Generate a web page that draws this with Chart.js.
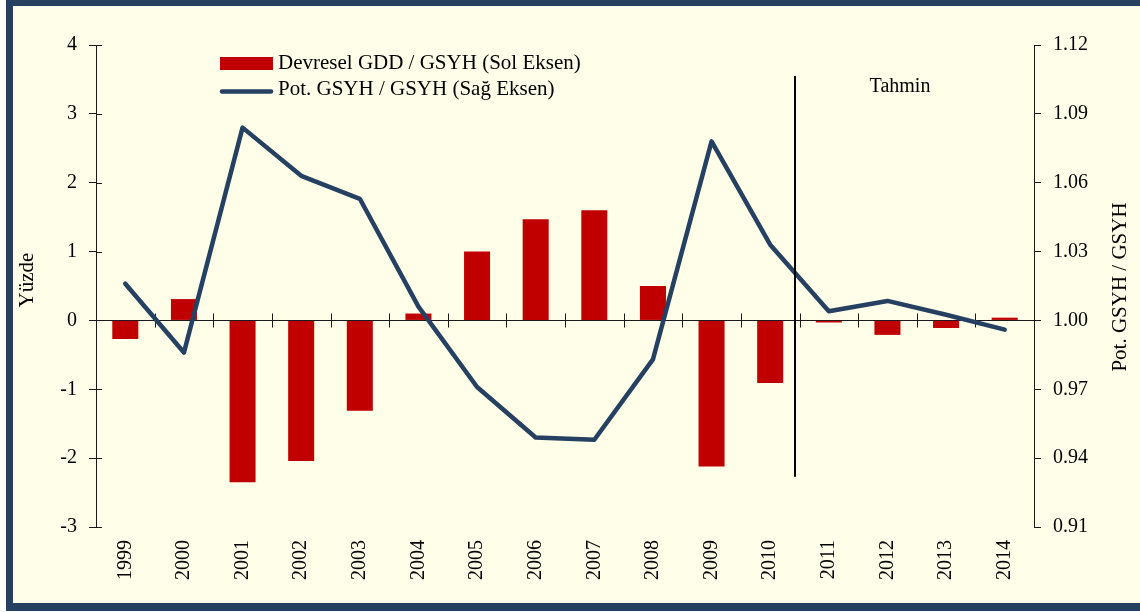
<!DOCTYPE html>
<html><head><meta charset="utf-8">
<script src="https://cdn.jsdelivr.net/npm/chart.js@4.4.1/dist/chart.umd.min.js"></script>
<style>html,body{margin:0;padding:0;background:#fff;overflow:hidden}#wrap{width:1140px;height:612px;position:relative}canvas{display:block}</style>
</head><body><div id="wrap"><canvas id="c" width="1140" height="612" style="width:1140px;height:612px"></canvas></div>
<script>
const years = ['1999','2000','2001','2002','2003','2004','2005','2006','2007','2008','2009','2010','2011','2012','2013','2014'];
const cycleBalance = [-0.27, 0.31, -2.35, -2.04, -1.31, 0.10, 1.00, 1.47, 1.60, 0.50, -2.12, -0.91, -0.03, -0.21, -0.11, 0.04];
const potRatio = [1.016, 0.986, 1.084, 1.063, 1.053, 1.006, 0.971, 0.949, 0.948, 0.983, 1.078, 1.033, 1.004, 1.0085, 1.0025, 0.996];
const leftTicks = [-3, -2, -1, 0, 1, 2, 3, 4];
const rightTicks = [0.91, 0.94, 0.97, 1.00, 1.03, 1.06, 1.09, 1.12];
const seriesLabels = ['Devresel GDD / GSYH (Sol Eksen)', 'Pot. GSYH / GSYH (Sağ Eksen)'];
const leftTitle = 'Yüzde';
const rightTitle = 'Pot. GSYH / GSYH';
const forecastLabel = 'Tahmin';

const NAVY = '#254061', CREAM = '#FEFEE9', RED = '#C00000', AX = '#1a1a1a';
const FONT = '"Liberation Serif", "Times New Roman", serif';

const decor = {
  id: 'decor',
  beforeDraw(chart) {
    const ctx = chart.ctx;
    ctx.save();
    ctx.fillStyle = '#ffffff'; ctx.fillRect(0, 0, 1140, 612);
    ctx.fillStyle = NAVY; ctx.fillRect(6, 0, 1134, 611);
    ctx.fillStyle = CREAM; ctx.fillRect(13, 6, 1127, 597);
    ctx.restore();
  },
  beforeDatasetsDraw(chart) {
    const ctx = chart.ctx, x = chart.scales.x, y = chart.scales.y;
    const ca = chart.chartArea;
    const y0 = Math.round(y.getPixelForValue(0)) + 0.5;
    ctx.save();
    ctx.strokeStyle = AX; ctx.lineWidth = 1;
    ctx.beginPath();
    ctx.moveTo(ca.left, y0); ctx.lineTo(ca.right, y0);
    for (let i = 0; i < years.length - 1; i++) {
      const px = Math.round(x.getPixelForValue(i + 0.5)) + 0.5;
      ctx.moveTo(px, y0 - 7); ctx.lineTo(px, y0 + 7);
    }
    leftTicks.forEach(v => {
      const py = Math.round(y.getPixelForValue(v)) + 0.5;
      ctx.moveTo(ca.left, py); ctx.lineTo(ca.left + 6, py);
    });
    ctx.stroke();
    ctx.restore();
  },
  afterDraw(chart) {
    const ctx = chart.ctx, x = chart.scales.x, y = chart.scales.y;
    ctx.save();
    const vx = Math.round(x.getPixelForValue(11.43));
    ctx.strokeStyle = '#000'; ctx.lineWidth = 2;
    ctx.beginPath();
    ctx.moveTo(vx, y.getPixelForValue(3.55)); ctx.lineTo(vx, y.getPixelForValue(-2.27));
    ctx.stroke();
    ctx.fillStyle = '#000';
    ctx.font = '20px ' + FONT;
    ctx.textAlign = 'center'; ctx.textBaseline = 'alphabetic';
    ctx.fillText(forecastLabel, 900, 92);
    ctx.fillStyle = RED; ctx.fillRect(220, 57, 53, 13);
    ctx.strokeStyle = NAVY; ctx.lineWidth = 4.5; ctx.lineCap = 'round';
    ctx.beginPath(); ctx.moveTo(222, 91.5); ctx.lineTo(271, 91.5); ctx.stroke();
    ctx.fillStyle = '#000'; ctx.textAlign = 'left';
    ctx.font = '21px ' + FONT;
    ctx.fillText(seriesLabels[0], 278, 69);
    ctx.fillText(seriesLabels[1], 278, 95);
    ctx.textAlign = 'center'; ctx.textBaseline = 'middle';
    ctx.save(); ctx.translate(27, 280); ctx.rotate(-Math.PI / 2); ctx.fillText(leftTitle, 0, 0); ctx.restore();
    ctx.save(); ctx.translate(1120, 287); ctx.rotate(-Math.PI / 2); ctx.fillText(rightTitle, 0, 0); ctx.restore();
    ctx.restore();
  }
};

new Chart(document.getElementById('c'), {
  type: 'bar',
  data: {
    labels: years,
    datasets: [
      { type: 'line', label: seriesLabels[1], data: potRatio, yAxisID: 'y2', order: 0,
        borderColor: NAVY, backgroundColor: NAVY, borderWidth: 4.5, pointRadius: 0,
        borderCapStyle: 'round', borderJoinStyle: 'round', tension: 0 },
      { type: 'bar', label: seriesLabels[0], data: cycleBalance, yAxisID: 'y', order: 1,
        backgroundColor: RED, borderWidth: 0, categoryPercentage: 1, barPercentage: 0.444 }
    ]
  },
  options: {
    responsive: false, animation: false, devicePixelRatio: 1,
    layout: { padding: { top: 45, left: 0, right: 0, bottom: 0 } },
    plugins: { legend: { display: false }, tooltip: { enabled: false } },
    scales: {
      x: {
        grid: { display: false, drawTicks: false }, border: { display: false },
        ticks: { color: '#000', font: { family: FONT, size: 20 }, maxRotation: 90, minRotation: 90, padding: 13, autoSkip: false },
        afterFit(s) { s.height = 85; }
      },
      y: {
        position: 'left', min: -3, max: 4,
        afterBuildTicks(s) { s.ticks = leftTicks.map(v => ({ value: v })); },
        grid: { drawOnChartArea: false, drawTicks: true, tickLength: 7, color: AX },
        border: { display: true, color: AX, width: 1 },
        ticks: { color: '#000', font: { family: FONT, size: 20 }, padding: 12, callback: v => String(v) },
        afterFit(s) { s.width = 96; }
      },
      y2: {
        position: 'right', min: 0.91, max: 1.12,
        afterBuildTicks(s) { s.ticks = rightTicks.map(v => ({ value: v })); },
        grid: { drawOnChartArea: false, drawTicks: true, tickLength: 7, color: AX },
        border: { display: true, color: AX, width: 1 },
        ticks: { color: '#000', font: { family: FONT, size: 20 }, padding: 12, callback: v => Number(v).toFixed(2) },
        afterFit(s) { s.width = 106; }
      }
    }
  },
  plugins: [decor]
});
</script></body></html>
